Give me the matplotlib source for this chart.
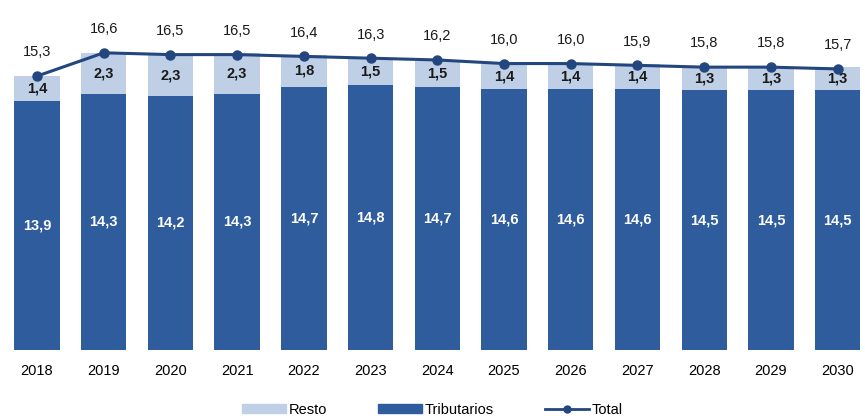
import matplotlib.pyplot as plt
from matplotlib.patches import Patch
from matplotlib.lines import Line2D
import numpy as np

plt.rcParams['font.family'] = ['Liberation Sans', 'DejaVu Sans']

years = ['2018', '2019', '2020', '2021', '2022', '2023', '2024',
         '2025', '2026', '2027', '2028', '2029', '2030']
tributarios = [13.9, 14.3, 14.2, 14.3, 14.7, 14.8, 14.7, 14.6, 14.6, 14.6, 14.5, 14.5, 14.5]
resto = [1.4, 2.3, 2.3, 2.3, 1.8, 1.5, 1.5, 1.4, 1.4, 1.4, 1.3, 1.3, 1.3]
total = [15.3, 16.6, 16.5, 16.5, 16.4, 16.3, 16.2, 16.0, 16.0, 15.9, 15.8, 15.8, 15.7]

dark = '#2f5c9c'
light = '#bfd0e6'
navy = '#23467e'

def fmt(v):
    return f'{v:.1f}'.replace('.', ',')

fig = plt.figure(figsize=(8.65, 4.2), dpi=100)
ax = fig.add_axes([0, 70/420, 1, 350/420])

x = np.arange(len(years))
w = 0.68
ax.bar(x, tributarios, w, color=dark)
ax.bar(x, resto, w, bottom=tributarios, color=light)
ax.plot(x, total, color=navy, lw=2.2, marker='o', ms=6.5, zorder=3)

for i in x:
    ax.text(i, tributarios[i] / 2, fmt(tributarios[i]), ha='center', va='center',
            color='white', fontsize=10.5, fontweight='bold')
    ax.text(i, tributarios[i] + resto[i] / 2, fmt(resto[i]), ha='center', va='center',
            color='#1a1a1a', fontsize=10.5, fontweight='bold')
    ax.annotate(fmt(total[i]), (i, total[i]), xytext=(0, 12), textcoords='offset points',
                ha='center', va='bottom', color='#1a1a1a', fontsize=10.5)

ax.set_xlim(-0.555, 12.41)
ax.set_ylim(0, 19.55)
ax.set_yticks([])
ax.set_xticks(x)
ax.set_xticklabels(years, fontsize=10.5)
ax.tick_params(axis='x', length=0, pad=10)
for s in ax.spines.values():
    s.set_visible(False)

handles = [Patch(color=light, label='Resto'),
           Patch(color=dark, label='Tributarios'),
           Line2D([], [], color=navy, lw=2, marker='o', ms=5, label='Total')]
fig.legend(handles=handles, loc='center', bbox_to_anchor=(0.5, 10/420), ncol=3,
           frameon=False, fontsize=10.5, handlelength=3, handleheight=0.6,
           columnspacing=3.5, handletextpad=0.2)

fig.savefig('out.png', dpi=100)
